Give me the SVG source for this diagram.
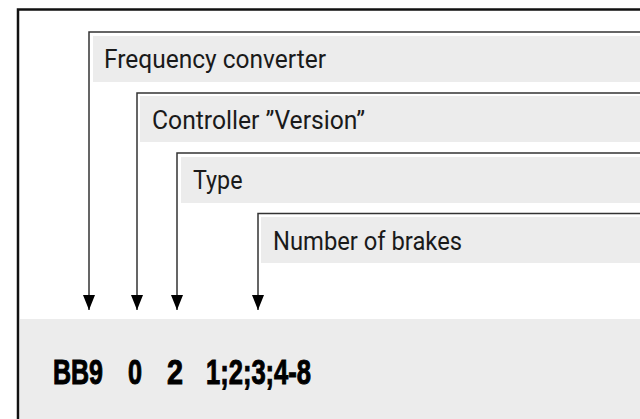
<svg xmlns="http://www.w3.org/2000/svg" width="640" height="419" viewBox="0 0 640 419">
<style>
.bar{fill:#ececec}
.conn{fill:none;stroke:#333;stroke-width:1.5}
.lbl{font-family:Roboto,"Liberation Sans",sans-serif;font-size:26px;fill:#1a1a1a}
.code{font-family:"Liberation Sans",Arial,sans-serif;font-weight:bold;font-size:35px;fill:#000;stroke:#000;stroke-width:1}
</style>
<defs>
<marker id="arr" markerUnits="userSpaceOnUse" markerWidth="15" markerHeight="12" refX="15" refY="6" orient="auto" viewBox="0 0 15 12">
<path d="M0,0 L15,6 L0,12 Z" fill="#000"/>
</marker>
</defs>
<rect width="640" height="419" fill="#fff"/>
<path d="M18,419 V9.5 H640" fill="none" stroke="#111" stroke-width="2.5"/>
<g id="code-band">
<rect class="bar" x="20" y="319" width="620" height="100"/>
<text class="code" x="53" y="384" textLength="50" lengthAdjust="spacingAndGlyphs">BB9</text>
<text class="code" x="128" y="384" textLength="14" lengthAdjust="spacingAndGlyphs">0</text>
<text class="code" x="167" y="384" textLength="16" lengthAdjust="spacingAndGlyphs">2</text>
<text class="code" x="206" y="384" textLength="105" lengthAdjust="spacingAndGlyphs">1;2;3;4-8</text>
</g>
<g id="node-frequency">
<rect class="bar" x="93" y="36" width="547" height="46"/>
<text class="lbl" x="104" y="67.5" textLength="222" lengthAdjust="spacingAndGlyphs">Frequency converter</text>
</g>
<g id="node-controller">
<rect class="bar" x="140" y="96" width="500" height="46"/>
<text class="lbl" x="152" y="129" textLength="213" lengthAdjust="spacingAndGlyphs">Controller ”Version”</text>
</g>
<g id="node-type">
<rect class="bar" x="181" y="157" width="459" height="46"/>
<text class="lbl" x="193" y="189.3" textLength="49.5" lengthAdjust="spacingAndGlyphs">Type</text>
</g>
<g id="node-brakes">
<rect class="bar" x="261" y="217" width="379" height="46"/>
<text class="lbl" x="273" y="250" textLength="189" lengthAdjust="spacingAndGlyphs">Number of brakes</text>
</g>
<g id="connectors">
<path class="conn" d="M640,32 H89 V310" marker-end="url(#arr)"/>
<path class="conn" d="M640,93 H137 V310" marker-end="url(#arr)"/>
<path class="conn" d="M640,153 H177 V310" marker-end="url(#arr)"/>
<path class="conn" d="M640,213.5 H258 V310" marker-end="url(#arr)"/>
</g>
</svg>
